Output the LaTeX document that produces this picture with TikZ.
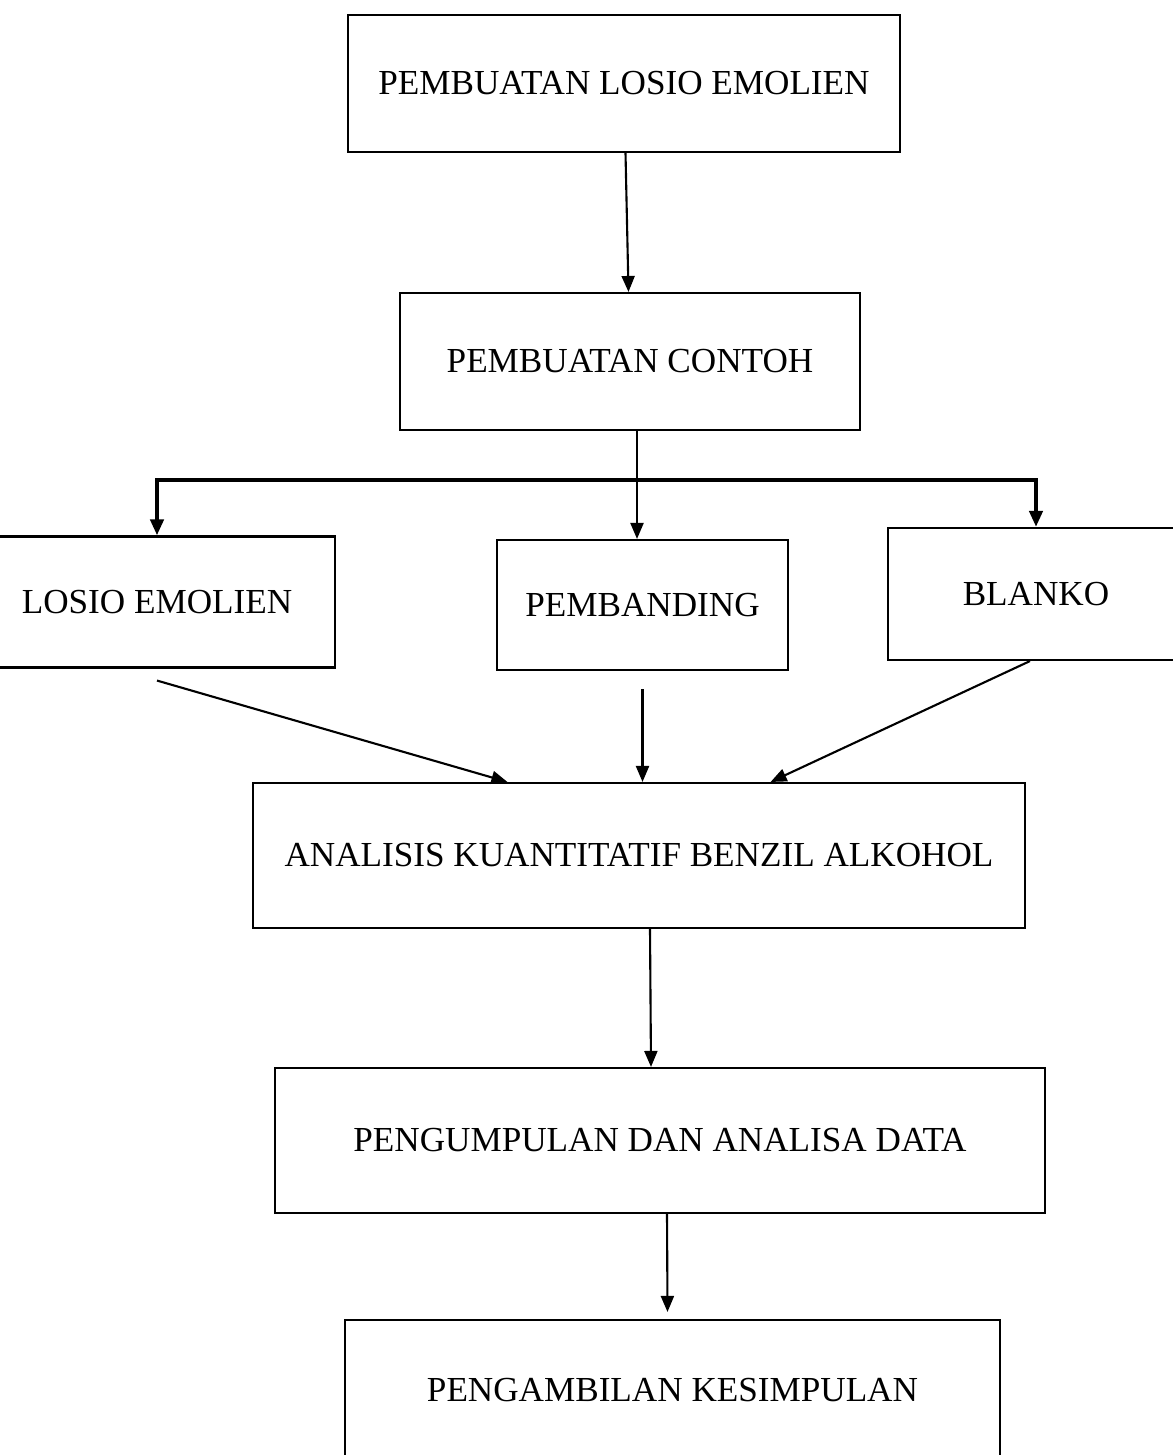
\documentclass[tikz,border=0pt]{standalone}
\usepackage{fontspec}
\setmainfont{Liberation Serif}
\usetikzlibrary{arrows.meta, positioning, calc}
\tikzset{>={Triangle[length=1.6mm,width=1.3mm]}}

\begin{document}
\begin{tikzpicture}[line width=0.6pt,
    box/.style={draw, rectangle, inner sep=0pt, font=\fontsize{10}{12}\selectfont},
    bus/.style={line width=1.4pt}]
  \useasboundingbox (0,0) rectangle (11.73,-14.55);
      \node[box, minimum width=5.52cm, minimum height=1.37cm](b1) at (6.24,-0.835){PEMBUATAN LOSIO EMOLIEN};
      \node[box, minimum width=4.60cm, minimum height=1.37cm](b2) at (6.30,-3.615){PEMBUATAN CONTOH};
      \node[box, minimum width=3.56cm, minimum height=1.31cm](b3) at (1.57,-6.02){LOSIO EMOLIEN};
      \node[box, minimum width=2.91cm, minimum height=1.30cm](b4) at (6.425,-6.05){PEMBANDING};
      \node[box, minimum width=2.96cm, minimum height=1.32cm](b5) at (10.36,-5.94){BLANKO};
      \node[box, minimum width=7.72cm, minimum height=1.45cm](b6) at (6.39,-8.555){ANALISIS KUANTITATIF BENZIL ALKOHOL};
      \node[box, minimum width=7.70cm, minimum height=1.45cm](b7) at (6.60,-11.405){PENGUMPULAN DAN ANALISA DATA};
      \node[box, minimum width=6.55cm, minimum height=1.40cm](b8) at (6.725,-13.90){PENGAMBILAN KESIMPULAN};
      \coordinate(split) at (6.37,-4.80);
  \draw[->](b1)--(b2);
  \draw[->](b2.south -| split)--(split |- b4.north);
  \draw[bus,->](split)-|(b3.north);
  \draw[bus,->](split)-|(b5.north);
  \draw[->]([yshift=-1.2mm]b3.south)--($(b6.north west)!0.33!(b6.north east)$);
  \draw[->]([yshift=-1.8mm]b4.south)--(b4.south |- b6.north);
  \draw[->]([xshift=-0.6mm]b5.south)--($(b6.north west)!0.67!(b6.north east)$);
  \draw[->]([xshift=1.1mm]b6.south)--([xshift=-0.9mm]b7.north);
  \draw[->]([xshift=0.7mm]b7.south)--([xshift=-0.5mm,yshift=0.7mm]b8.north);
  \end{tikzpicture}
\end{document}
